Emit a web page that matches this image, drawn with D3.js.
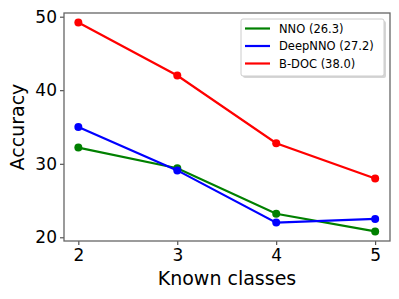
<!DOCTYPE html>
<html><head><meta charset="utf-8">
<script src="https://cdn.jsdelivr.net/npm/d3@7"></script>
<style>body{margin:0;background:#fff}svg{display:block}text{font-family:"DejaVu Sans",sans-serif}</style>
</head><body><svg id="c" width="399" height="299"></svg>
<script>
const knownClasses = [2, 3, 4, 5];
const seriesNames = ["NNO (26.3)", "DeepNNO (27.2)", "B-DOC (38.0)"];
const seriesColors = ["#008000", "#0000ff", "#ff0000"];
const nnoValues = [32.2, 29.4, 23.2, 20.8];
const deepNnoValues = [35.0, 29.1, 22.0, 22.5];
const bdocValues = [49.2, 42.0, 32.8, 28.0];
const yTicks = [20, 30, 40, 50];
const seriesValues = [nnoValues, deepNnoValues, bdocValues];

const svg = d3.select("#c");
const L = 64, R = 390, T = 13, B = 241;
const x = d3.scaleLinear().domain([1.855, 5.15]).range([L, R]);
const y = d3.scaleLinear().domain([19.5, 50.5]).range([B, T]);

const xAxis = svg.append("g").attr("transform", `translate(0,${B})`)
  .call(d3.axisBottom(x).tickValues(knownClasses).tickFormat(d3.format("d")).tickSizeOuter(0).tickSize(4).tickPadding(4));
const yAxis = svg.append("g").attr("transform", `translate(${L},0)`)
  .call(d3.axisLeft(y).tickValues(yTicks).tickSizeOuter(0).tickSize(4).tickPadding(3));
[xAxis, yAxis].forEach(a => {
  a.select(".domain").remove();
  a.selectAll("line").attr("stroke", "#333");
  a.selectAll("text").attr("font-size", 17).attr("fill", "#000");
});
svg.append("rect").attr("x", L).attr("y", T).attr("width", R - L).attr("height", B - T)
  .attr("fill", "none").attr("stroke", "#666").attr("stroke-width", 1.3);

seriesValues.forEach((vals, i) => {
  const data = knownClasses.map((k, j) => [k, vals[j]]);
  svg.append("path").datum(data)
    .attr("d", d3.line().x(d => x(d[0])).y(d => y(d[1])))
    .attr("fill", "none").attr("stroke", seriesColors[i]).attr("stroke-width", 2.2);
  svg.selectAll(null).data(data).enter().append("circle")
    .attr("cx", d => x(d[0])).attr("cy", d => y(d[1])).attr("r", 4)
    .attr("fill", seriesColors[i]);
});

svg.append("text").attr("x", (L + R) / 2).attr("y", 285).attr("text-anchor", "middle")
  .attr("font-size", 19).text("Known classes");
svg.append("text").attr("transform", `translate(24,${(T + B) / 2}) rotate(-90)`)
  .attr("text-anchor", "middle").attr("font-size", 19).text("Accuracy");

const lg = svg.append("g");
lg.append("rect").attr("x", 243).attr("y", 21).attr("width", 143).attr("height", 57).attr("rx", 2)
  .attr("fill", "#bbb").attr("opacity", 0.6);
lg.append("rect").attr("x", 241).attr("y", 19).attr("width", 143).attr("height", 57).attr("rx", 2)
  .attr("fill", "#fff").attr("stroke", "#ccc");
seriesNames.forEach((n, i) => {
  const yy = 28.5 + i * 17.5;
  lg.append("line").attr("x1", 245).attr("x2", 270).attr("y1", yy).attr("y2", yy)
    .attr("stroke", seriesColors[i]).attr("stroke-width", 2.2);
  lg.append("text").attr("x", 279).attr("y", yy + 4).attr("font-size", 11.5).text(n);
});
</script></body></html>
